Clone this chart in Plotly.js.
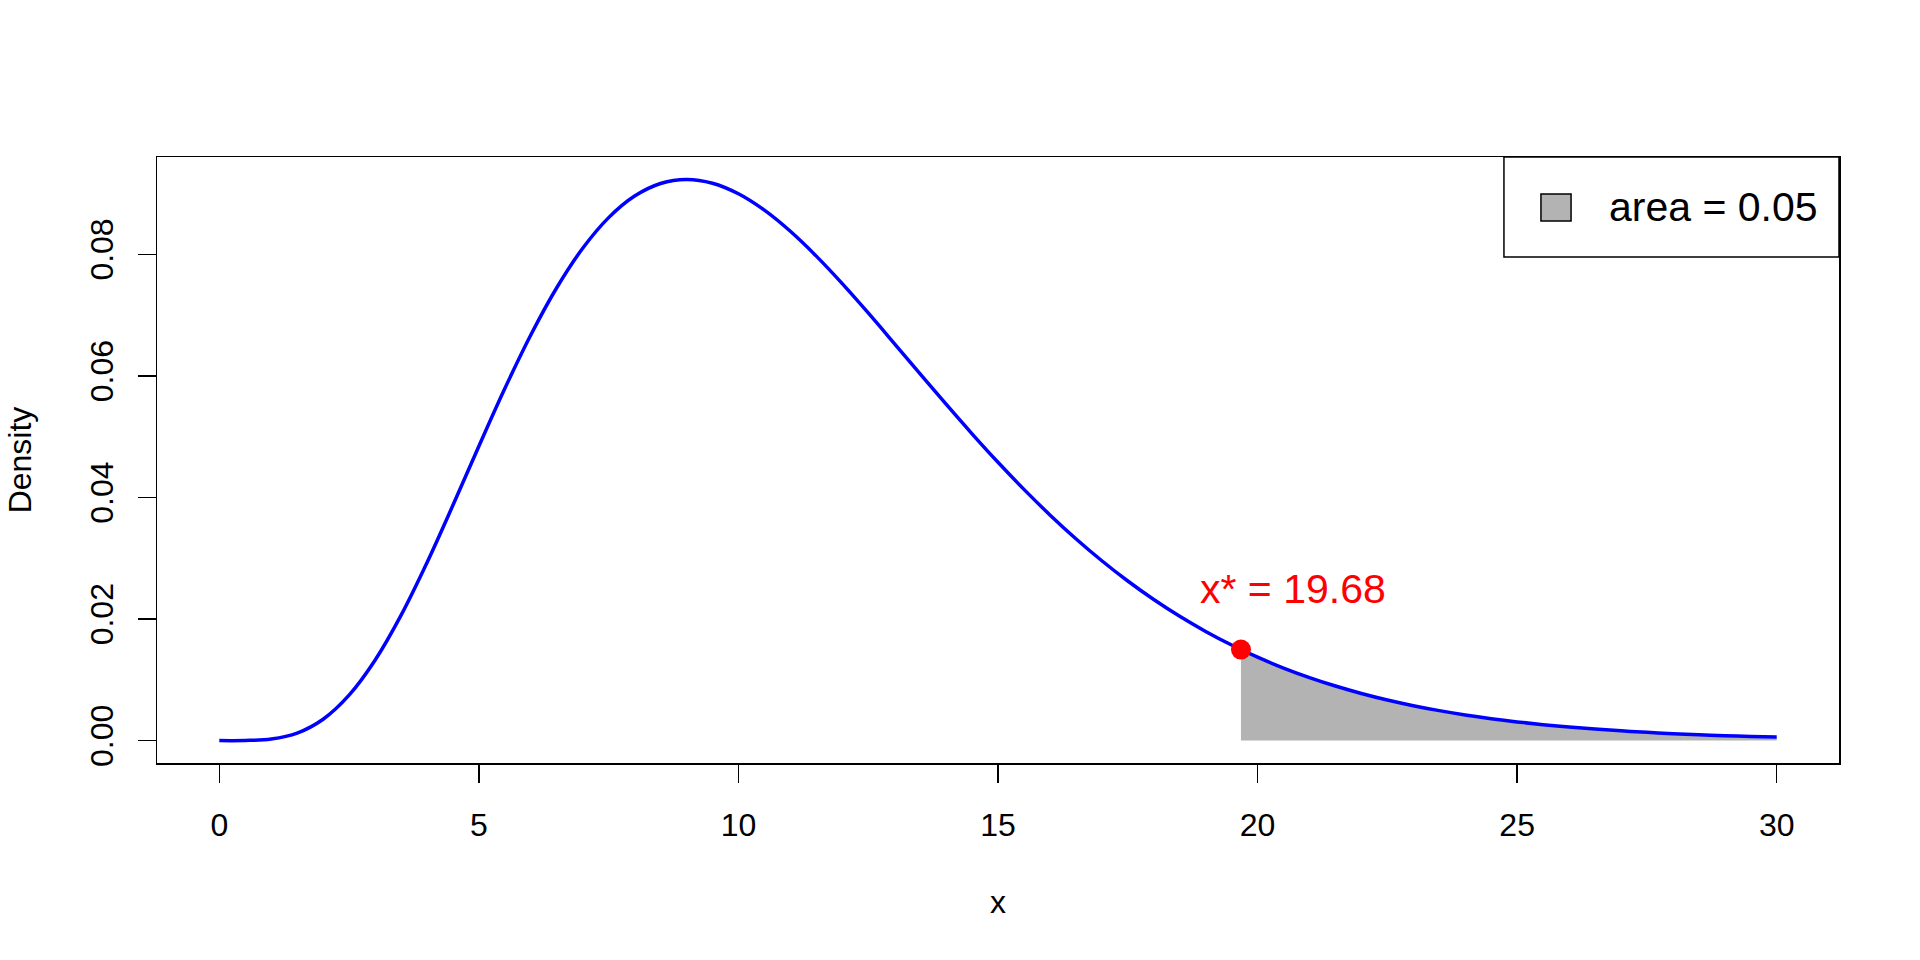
<!DOCTYPE html>
<html>
<head>
<meta charset="utf-8">
<script src="https://cdn.plot.ly/plotly-3.0.1.min.js"></script>
<style>html,body{margin:0;padding:0;background:#fff;}#chart{width:1920px;height:960px;}</style>
</head>
<body>
<div id="chart"></div>
<script>
// Density curve
const xValues = [0,0.5,1,1.5,2,2.5,3,3.5,4,4.5,5,5.5,6,6.5,7,7.5,8,8.5,9,9.5,10,10.5,11,11.5,12,12.5,13,13.5,14,14.5,15,15.5,16,16.5,17,17.5,18,18.5,19,19.5,20,20.5,21,21.5,22,22.5,23,23.5,24,24.5,25,25.5,26,26.5,27,27.5,28,28.5,29,29.5,30];
const densityValues = [0,0.0000145,0.000256,0.001236,0.003514,0.00747,0.013216,0.020594,0.029252,0.038705,0.048428,0.057916,0.066722,0.074495,0.080982,0.086028,0.089578,0.091646,0.092308,0.091692,0.089949,0.087252,0.083776,0.079695,0.075168,0.070347,0.065358,0.060322,0.055333,0.050465,0.045779,0.041322,0.037124,0.033206,0.02958,0.026246,0.023203,0.020442,0.01795,0.015713,0.013714,0.011936,0.01036,0.00897,0.007747,0.006675,0.005739,0.004924,0.004216,0.003603,0.003073,0.002616,0.002223,0.001887,0.001598,0.001352,0.001142,0.000963,0.000811,0.000682,0.000573];

// Shaded upper tail (area = 0.05)
const tailX = [19.68,20,20.5,21,21.5,22,22.5,23,23.5,24,24.5,25,25.5,26,26.5,27,27.5,28,28.5,29,29.5,30];
const tailY = [0.01497,0.013714,0.011936,0.01036,0.00897,0.007747,0.006675,0.005739,0.004924,0.004216,0.003603,0.003073,0.002616,0.002223,0.001887,0.001598,0.001352,0.001142,0.000963,0.000811,0.000682,0.000573];

// Critical point
const critX = [19.68];
const critY = [0.01497];
const critLabel = "x* = 19.68";
const legendLabel = "area = 0.05";

const xTicks = [0,5,10,15,20,25,30];
const yTicks = [0,0.02,0.04,0.06,0.08];

const FONT = "Liberation Sans, Arial, Helvetica, sans-serif";

const traces = [
  {
    x: tailX, y: tailY, type: "scatter", mode: "lines",
    fill: "tozeroy", fillcolor: "#b3b3b3",
    line: {width: 0, color: "#b3b3b3", shape: "spline", smoothing: 1},
    hoverinfo: "skip", showlegend: false
  },
  {
    x: xValues, y: densityValues, type: "scatter", mode: "lines",
    line: {color: "#0000ff", width: 3.5, shape: "spline", smoothing: 1},
    showlegend: false
  },
  {
    x: critX, y: critY, type: "scatter", mode: "markers",
    marker: {color: "#ff0000", size: 20},
    showlegend: false
  }
];

const layout = {
  width: 1920, height: 960,
  paper_bgcolor: "#ffffff", plot_bgcolor: "#ffffff",
  margin: {l: 157, r: 81, t: 157, b: 197, pad: 0},
  font: {family: FONT, color: "#000000", size: 32},
  showlegend: false,
  xaxis: {
    range: [-1.2, 31.2], tickvals: xTicks, ticktext: xTicks.map(String),
    ticks: "outside", ticklen: 18, tickwidth: 1.5, tickcolor: "#000",
    showline: true, mirror: true, linecolor: "#000", linewidth: 1.5,
    showgrid: false, zeroline: false,
    tickfont: {family: FONT, size: 32, color: "#000"},
    ticklabelstandoff: 15,
    title: {text: "x", font: {family: FONT, size: 32, color: "#000"}, standoff: 48},
    automargin: false
  },
  yaxis: {
    range: [-0.00369, 0.096], tickvals: yTicks, ticktext: yTicks.map(v => v.toFixed(2)),
    ticks: "outside", ticklen: 18, tickwidth: 1.5, tickcolor: "#000",
    showline: true, mirror: true, linecolor: "#000", linewidth: 1.5,
    showgrid: false, zeroline: false, tickangle: -90,
    tickfont: {family: FONT, size: 32, color: "#000"},
    ticklabelstandoff: 12,
    title: {text: "Density", font: {family: FONT, size: 32, color: "#000"}, standoff: 42},
    automargin: false
  },
  shapes: [
    {type: "rect", xref: "paper", yref: "paper", x0: 0.8008, x1: 1.0, y0: 0.835, y1: 1.0,
     line: {color: "#000", width: 1.5}, fillcolor: "rgba(255,255,255,0)"},
    {type: "rect", xref: "paper", yref: "paper", x0: 0.8228, x1: 0.8407, y0: 0.8944, y1: 0.9389,
     line: {color: "#000", width: 1.5}, fillcolor: "#b3b3b3"}
  ],
  annotations: [
    {xref: "paper", yref: "paper", x: 0.8622, y: 0.9167, xanchor: "left", yanchor: "middle",
     text: legendLabel, showarrow: false, font: {family: FONT, size: 41, color: "#000"}},
    {xref: "x", yref: "y", x: critX[0] + 1, y: 0.025, xanchor: "center", yanchor: "middle",
     text: critLabel, showarrow: false, font: {family: FONT, size: 41, color: "#ff0000"}}
  ]
};

Plotly.newPlot("chart", traces, layout, {displayModeBar: false, staticPlot: true});
</script>
</body>
</html>
